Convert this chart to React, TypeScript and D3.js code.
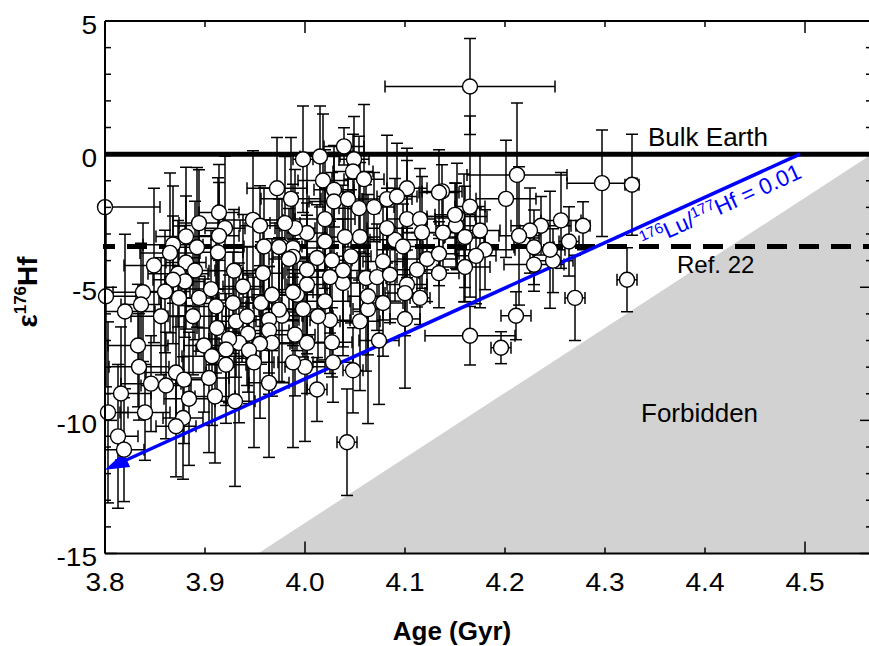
import React from 'react';
import * as d3 from 'd3';

const W = 869, H = 646;
const FONT = '"Liberation Sans", Arial, Helvetica, sans-serif';

// axis ticks
const xTicks = [3.8, 3.9, 4.0, 4.1, 4.2, 4.3, 4.4, 4.5];
const xTickLabels = ['3.8', '3.9', '4.0', '4.1', '4.2', '4.3', '4.4', '4.5'];
const xMajorTicks = [4.0, 4.5];
const yTicks = [5, 0, -5, -10, -15];
const yTickLabels = ['5', '0', '-5', '-10', '-15'];
const yMinorTicks = [4, 3, 2, 1, -1, -2, -3, -4, -6, -7, -8, -9, -11, -12, -13, -14];

// reference lines / regions
const bulkEarth = 0;
const ref22 = -3.47;
const luAge = [3.80, 4.495];
const luEps = [-11.85, 0];
const forbiddenAge = [3.953, 4.567, 4.567];
const forbiddenEps = [-15, 0, -15];

// zircon data: age (Gyr), epsilon Hf, and their errors
const ages = [
  4.165,4.297,4.327,4.278,4.264,4.256,4.248,4.229,4.229,4.245,
  4.236,4.225,4.214,4.212,4.201,4.211,4.165,4.196,4.165,4.175,
  4.159,4.18,4.171,4.16,4.152,4.151,4.138,4.137,4.27,4.322,
  4.048,4.012,4.074,4.10,4.028,4.0,3.988,4.027,4.002,3.99,
  4.025,4.013,4.055,4.063,4.078,4.02,3.998,3.977,3.992,4.002,
  4.038,4.063,4.102,4.115,4.10,3.998,4.015,4.039,4.049,4.048,
  4.018,4.059,4.102,4.134,3.986,4.029,4.029,4.043,4.054,4.069,
  4.082,4.092,4.102,4.115,4.15,4.16,4.117,4.09,4.082,4.055,
  4.04,4.02,4.02,4.002,3.99,3.98,3.977,3.988,4.012,4.027,
  4.046,4.078,4.098,4.112,4.122,4.134,4.134,4.002,4.038,4.025,
  4.061,4.072,4.085,3.988,3.80,3.972,3.914,3.894,3.948,3.955,
  3.92,3.914,3.881,3.868,3.892,3.913,3.959,3.974,3.865,3.881,
  3.849,3.873,3.89,3.929,3.958,3.984,3.938,3.906,3.88,3.868,
  3.838,3.86,3.801,3.988,3.82,3.836,3.856,3.874,3.888,3.894,
  3.911,3.928,3.931,3.942,3.956,3.967,3.974,3.964,3.964,3.912,
  3.943,3.967,3.955,3.934,3.924,3.921,3.899,3.907,3.944,3.949,
  3.921,3.833,3.834,3.871,3.879,3.846,3.861,3.904,3.91,3.93,
  3.884,3.816,3.803,3.84,3.878,3.871,3.964,3.813,3.819,4.042,
];
const eps = [
  2.54,-1.09,-1.15,-2.69,-3.28,-2.49,-4.0,-4.15,-3.5,-3.59,
  -2.69,-2.87,-3.07,-0.78,-1.68,-6.07,-6.82,-7.27,-1.97,-2.87,
  -3.15,-3.59,-3.82,-4.24,-2.34,-2.69,-2.95,-1.4,-5.4,-4.72,
  -8.12,-8.84,-7.0,-6.19,-7.82,-7.99,-7.82,-7.07,-7.09,-6.78,
  -6.24,-6.09,-6.28,-5.82,-5.59,-5.53,-5.82,-6.07,-5.28,-4.9,
  -4.84,-5.34,-4.9,-5.4,-5.22,-0.19,-0.09,0.29,-0.19,-0.65,
  -0.99,-0.94,-1.28,-1.44,-1.68,-1.34,-1.78,-1.69,-2.03,-1.99,
  -1.69,-1.59,-2.44,-2.44,-2.28,-3.11,-2.94,-3.22,-2.78,-3.11,
  -3.11,-2.44,-3.28,-2.96,-2.78,-2.59,-3.47,-3.53,-3.9,-3.99,
  -3.84,-4.03,-3.47,-4.34,-3.94,-3.74,-4.47,-4.34,-4.37,-4.62,
  -4.65,-4.62,-4.53,-3.86,-1.99,-1.28,-2.19,-2.59,-2.47,-2.69,
  -2.78,-3.07,-3.09,-3.4,-3.5,-3.69,-3.47,-3.49,-3.71,-4.07,
  -4.18,-4.49,-4.37,-4.38,-4.47,-3.94,-4.97,-5.07,-4.78,-4.72,
  -5.19,-5.16,-5.34,-5.19,-5.91,-5.65,-6.09,-5.4,-6.09,-5.4,
  -5.72,-5.59,-6.28,-6.09,-5.59,-5.28,-5.84,-6.22,-6.62,-6.53,
  -6.74,-7.09,-7.12,-7.09,-6.94,-7.34,-7.19,-7.59,-7.37,-7.82,
  -7.91,-7.19,-7.99,-8.2,-8.47,-8.62,-8.69,-8.41,-9.1,-9.28,
  -9.19,-8.99,-9.7,-9.7,-9.91,-10.22,-8.59,-10.6,-11.1,-10.82,
];
const ageErr = [
  0.085,0.035,0.007,0.007,0.01,0.02,0.02,0.03,0.02,0.015,
  0.03,0.01,0.02,0.05,0.03,0.015,0.045,0.01,0.015,0.02,
  0.02,0.03,0.02,0.025,0.03,0.02,0.04,0.02,0.01,0.01,
  0.01,0.01,0.02,0.015,0.02,0.02,0.015,0.02,0.03,0.02,
  0.02,0.015,0.02,0.015,0.02,0.025,0.02,0.02,0.03,0.02,
  0.02,0.02,0.02,0.01,0.02,0.01,0.02,0.02,0.015,0.02,
  0.025,0.02,0.02,0.02,0.03,0.02,0.025,0.015,0.02,0.02,
  0.025,0.02,0.02,0.015,0.02,0.02,0.02,0.025,0.02,0.02,
  0.02,0.03,0.02,0.02,0.02,0.015,0.02,0.03,0.02,0.02,
  0.02,0.02,0.02,0.02,0.03,0.02,0.02,0.02,0.025,0.02,
  0.02,0.02,0.02,0.02,0.055,0.03,0.02,0.02,0.03,0.02,
  0.02,0.02,0.03,0.03,0.02,0.025,0.02,0.02,0.03,0.02,
  0.03,0.03,0.02,0.025,0.02,0.02,0.02,0.03,0.02,0.02,
  0.03,0.025,0.03,0.02,0.03,0.02,0.03,0.02,0.025,0.02,
  0.03,0.02,0.02,0.025,0.02,0.02,0.02,0.03,0.02,0.02,
  0.02,0.02,0.03,0.02,0.02,0.03,0.02,0.03,0.02,0.02,
  0.02,0.03,0.03,0.03,0.02,0.03,0.025,0.02,0.02,0.02,
  0.025,0.03,0.02,0.025,0.02,0.02,0.02,0.02,0.02,0.01,
];
const epsErr = [
  1.8,2.0,1.9,0.9,1.3,1.8,1.2,1.0,1.4,2.2,
  1.1,1.6,2.6,2.7,2.2,0.9,1.1,0.6,3.4,2.9,
  2.4,1.5,1.8,1.3,2.0,1.6,1.4,1.0,1.6,1.2,
  1.6,1.2,2.4,2.6,1.5,2.8,3.2,1.3,1.9,2.3,
  2.0,1.7,2.6,4.3,2.0,2.2,1.8,2.5,2.1,2.6,
  2.4,2.2,1.3,1.0,1.6,2.0,1.9,0.7,1.6,1.4,
  2.5,2.8,1.5,1.6,2.3,1.4,2.1,1.8,2.7,1.3,
  2.4,2.0,2.2,1.9,1.2,1.9,2.1,2.3,1.5,2.8,
  1.7,2.6,2.0,3.0,2.2,2.5,1.8,2.4,2.0,3.3,
  2.5,2.2,1.6,1.4,1.6,1.2,1.3,2.5,3.2,2.1,
  3.5,2.0,1.8,2.4,0,1.9,1.8,2.0,2.6,1.5,
  2.7,2.0,2.6,2.2,3.0,2.8,2.2,1.8,3.0,2.5,
  2.9,2.0,2.6,2.3,2.0,1.9,2.7,2.2,2.1,2.4,
  2.6,2.3,3.4,2.0,2.9,2.3,2.2,2.7,2.2,2.0,
  2.5,1.9,2.1,2.6,2.3,2.1,2.7,2.0,2.4,2.6,
  2.2,2.0,2.8,3.0,2.4,2.1,2.5,2.6,2.0,3.2,
  2.2,2.3,2.0,2.1,2.4,1.8,2.0,2.8,2.5,3.2,
  2.5,2.5,3.4,1.8,2.3,1.9,2.8,2.7,1.95,2.0,
];

const x = d3.scaleLinear().domain([3.8, 4.567]).range([105, 872]);
const y = d3.scaleLinear().domain([-15, 5]).range([553.5, 21]);

export default function App() {
  const [x0, x1] = x.range();
  const [yb, yt] = y.range();
  const cap = 6;
  const r = 7.5;

  const forbiddenPath = d3.line<number>()
    .x((_, i) => x(forbiddenAge[i]))
    .y((_, i) => y(forbiddenEps[i]))(forbiddenAge.map((_, i) => i)) + 'Z';

  const lx0 = x(luAge[0]), ly0 = y(luEps[0]);
  const lx1 = x(luAge[1]), ly1 = y(luEps[1]);
  const dx = lx1 - lx0, dy = ly1 - ly0;
  const len = Math.hypot(dx, dy);
  const ux = dx / len, uy = dy / len;
  const ah = 24, aw = 8;
  const bx = lx0 + ux * ah, by = ly0 + uy * ah;
  const arrow = `M${lx0},${ly0}L${bx - uy * aw},${by + ux * aw}L${bx + uy * aw},${by - ux * aw}Z`;
  const angle = (Math.atan2(dy, dx) * 180) / Math.PI;

  const pts = ages.map((a, i) => ({ a, e: eps[i], ae: ageErr[i], ee: epsErr[i] }));

  return (
    <svg width={W} height={H} style={{ position: 'absolute', left: 0, top: 0, background: '#fff' }} fontFamily={FONT}>
      <defs>
        <clipPath id="plotClip">
          <rect x={x0} y={yt} width={x1 - x0} height={yb - yt} />
        </clipPath>
      </defs>
      <rect x={0} y={0} width={W} height={H} fill="#fff" />
      {/* forbidden region */}
      <path d={forbiddenPath} fill="#d2d2d2" stroke="none" />
      {/* Bulk earth & ref 22 */}
      <line x1={x0} x2={x1} y1={y(bulkEarth)} y2={y(bulkEarth)} stroke="#000" strokeWidth={5} />
      <line x1={x0 - 2} x2={x1} y1={y(ref22)} y2={y(ref22)} stroke="#000" strokeWidth={5} strokeDasharray="20,12" strokeDashoffset={8} />
      {/* error bars */}
      <g clipPath="url(#plotClip)" stroke="#000" strokeWidth={1.5} fill="none">
        {pts.map((p, i) => {
          const cx = x(p.a), cy = y(p.e);
          const xl = x(p.a - p.ae), xr = x(p.a + p.ae);
          const yu = y(p.e + p.ee), yd = y(p.e - p.ee);
          return (
            <g key={i}>
              {p.ee > 0 && (
                <>
                  <line x1={cx} x2={cx} y1={yu} y2={yd} />
                  <line x1={cx - cap} x2={cx + cap} y1={yu} y2={yu} />
                  <line x1={cx - cap} x2={cx + cap} y1={yd} y2={yd} />
                </>
              )}
              {p.ae > 0 && (
                <>
                  <line x1={xl} x2={xr} y1={cy} y2={cy} />
                  <line x1={xl} x2={xl} y1={cy - cap} y2={cy + cap} />
                  <line x1={xr} x2={xr} y1={cy - cap} y2={cy + cap} />
                </>
              )}
            </g>
          );
        })}
      </g>
      {/* Lu/Hf evolution line */}
      <line x1={lx0 + ux * 10} y1={ly0 + uy * 10} x2={lx1} y2={ly1} stroke="#0000ff" strokeWidth={3.5} />
      <path d={arrow} fill="#0000ff" />
      {/* points */}
      <g fill="#fff" stroke="#000" strokeWidth={1.4}>
        {pts.map((p, i) => (
          <circle key={i} cx={x(p.a)} cy={y(p.e)} r={r} />
        ))}
      </g>
      {/* frame */}
      <g stroke="#000" strokeWidth={2} fill="none">
        <line x1={x0} x2={x0} y1={yt} y2={yb} />
        <line x1={x0} x2={x1} y1={yb} y2={yb} />
        <line x1={x0} x2={x1} y1={yt} y2={yt} />
        <line x1={x1} x2={x1} y1={yt} y2={yb} />
      </g>
      {/* ticks */}
      <g stroke="#000" strokeWidth={1.5}>
        {xTicks.map((t, i) => {
          const L = xMajorTicks.includes(t) ? 12 : 6;
          return (
            <g key={'xt' + i}>
              <line x1={x(t)} x2={x(t)} y1={yb} y2={yb - L} />
              <line x1={x(t)} x2={x(t)} y1={yt} y2={yt + L} />
            </g>
          );
        })}
        {yTicks.map((t, i) => (
          <g key={'yt' + i}>
            <line x1={x0} x2={x0 + 12} y1={y(t)} y2={y(t)} />
            <line x1={x1} x2={x1 - 12} y1={y(t)} y2={y(t)} />
          </g>
        ))}
        {yMinorTicks.map((t, i) => (
          <g key={'ym' + i}>
            <line x1={x0} x2={x0 + 6} y1={y(t)} y2={y(t)} />
            <line x1={x1} x2={x1 - 6} y1={y(t)} y2={y(t)} />
          </g>
        ))}
      </g>
      {/* tick labels */}
      <g fontSize={26} fill="#000">
        {xTicks.map((t, i) => (
          <text key={'xl' + i} transform={`translate(${x(t)},${yb + 37}) scale(1.08,1)`} textAnchor="middle">{xTickLabels[i]}</text>
        ))}
        {yTicks.map((t, i) => (
          <text key={'yl' + i} transform={`translate(${x0 - 8},${y(t) + 12.5}) scale(1.08,1)`} textAnchor="end">{yTickLabels[i]}</text>
        ))}
      </g>
      {/* axis titles */}
      <text x={452} y={640} textAnchor="middle" fontSize={26} fontWeight="bold">Age (Gyr)</text>
      <text transform="translate(37,292) rotate(-90)" textAnchor="middle" fontSize={28} fontWeight="bold">
        ε<tspan fontSize={17} dy={-11}>176</tspan><tspan dy={11}>Hf</tspan>
      </text>
      {/* annotations */}
      <text x={648} y={146} fontSize={26}>Bulk Earth</text>
      <text x={677} y={273} fontSize={24}>Ref. 22</text>
      <text x={641} y={422} fontSize={26}>Forbidden</text>
      <text transform={`translate(645,249) rotate(${angle})`} fontSize={22.5} fill="#0000ff">
        <tspan fontSize={15} dy={-8}>176</tspan><tspan dy={8}>Lu/</tspan><tspan fontSize={15} dy={-8}>177</tspan><tspan dy={8}>Hf = 0.01</tspan>
      </text>
    </svg>
  );
}
